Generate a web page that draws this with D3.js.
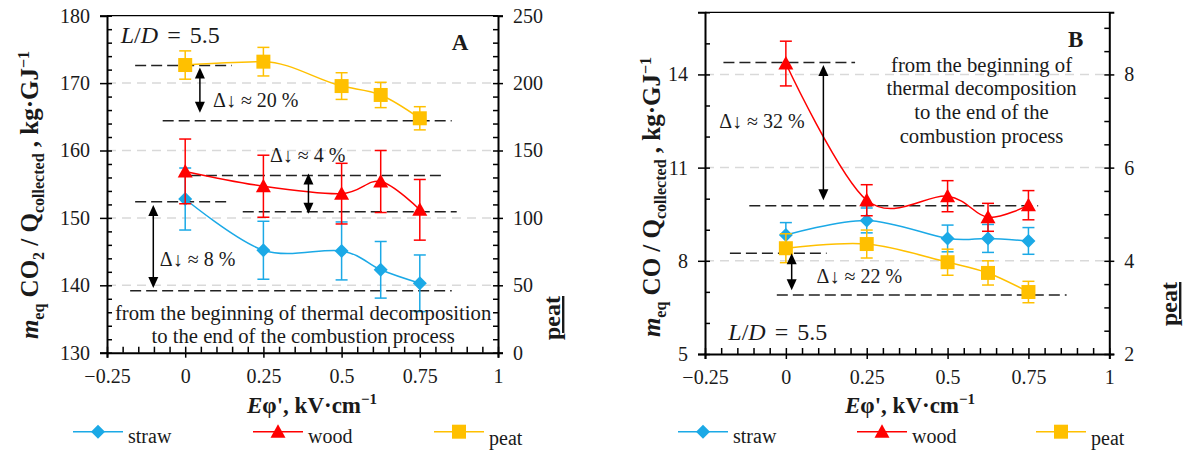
<!DOCTYPE html>
<html><head><meta charset="utf-8">
<script src="https://cdn.jsdelivr.net/npm/d3@7"></script>
<style>
body{margin:0;background:#fff;}
</style></head><body>
<svg id="chart" width="1185" height="451"></svg>
<script>
// ---------- data ----------
const xValues = [0, 0.25, 0.5, 0.625, 0.75];
const xTicks = [-0.25, 0, 0.25, 0.5, 0.75, 1];
const seriesNames = ["straw", "wood", "peat"];

// Panel A (CO2) — straw & wood on left axis, peat on right axis
const strawA = [152.8, 145.2, 145.1, 142.3, 140.3];
const strawAErr = [4.6, 4.3, 4.3, 4.2, 4.2];
const woodA = [156.9, 154.7, 153.6, 155.4, 151.2];
const woodAErr = [4.8, 4.6, 4.5, 4.6, 4.5];
const peatA = [213.4, 215.9, 197.8, 191.2, 173.9];
const peatAErr = [10.5, 10.6, 9.9, 9.4, 8.6];
const leftTicksA = [130, 140, 150, 160, 170, 180];
const rightTicksA = [0, 50, 100, 150, 200, 250];

// Panel B (CO)
const strawB = [8.83, 9.30, 8.72, 8.72, 8.64];
const strawBErr = [0.40, 0.40, 0.43, 0.45, 0.43];
const woodB = [14.35, 9.95, 10.08, 9.40, 9.79];
const woodBErr = [0.72, 0.50, 0.50, 0.45, 0.47];
const peatB = [4.27, 4.36, 3.97, 3.74, 3.33];
const peatBErr = [0.31, 0.30, 0.28, 0.26, 0.23];
const leftTicksB = [5, 8, 11, 14];
const rightTicksB = [2, 4, 6, 8];

// reference (dashed) levels: [y, x0, x1]
const refLinesA = [[172.6, -0.16, 0.149], [164.4, -0.072, 0.852], [156.3, 0.015, 0.825],
                   [150.9, 0.184, 0.868], [152.4, -0.16, 0.133], [139.2, -0.176, 0.852]];
const refLinesB = [[14.38, -0.193, 0.214], [9.77, -0.113, 0.78], [8.24, -0.173, 0.126], [6.90, -0.028, 0.868]];
// arrows: [x, yTop, yBottom]
const arrowsA = [[0.047, 172.3, 165.6], [0.394, 156.6, 150.6], [-0.102, 151.9, 139.6]];
const arrowsB = [[0.116, 14.3, 9.95], [0.018, 8.24, 7.05]];
const deltaLabelsA = ["Δ↓ ≈ 20 %", "Δ↓ ≈ 4 %", "Δ↓ ≈ 8 %"];
const deltaLabelsB = ["Δ↓ ≈ 32 %", "Δ↓ ≈ 22 %"];

// ---------- style ----------
const FONT = '"Liberation Serif", "Times New Roman", serif';
const colorOf = {straw: "#1BA9E6", wood: "#FF0000", peat: "#FFC000"};
const svg = d3.select("#chart");

function markerPath(type) {
  if (type === "straw") return "M0,-7L7,0L0,7L-7,0Z";
  if (type === "wood") return "M0,-7.5L7.5,6L-7.5,6Z";
  return "M-7,-7H7V7H-7Z";
}

function drawPanel(cfg) {
  const g = svg.append("g");
  const x = d3.scaleLinear().domain([-0.25, 1]).range([cfg.L, cfg.R]);
  const yL = d3.scaleLinear().domain(cfg.yL).range([cfg.B, cfg.T]);
  const yR = d3.scaleLinear().domain(cfg.yR).range([cfg.B, cfg.T]);

  // gridlines
  g.selectAll(".grid").data(cfg.leftTicks.filter(d => d > cfg.yL[0] && d < cfg.yL[1]))
    .enter().append("line")
    .attr("x1", cfg.L).attr("x2", cfg.R).attr("y1", d => yL(d)).attr("y2", d => yL(d))
    .attr("stroke", "#d9d9d9").attr("stroke-width", 1.5).attr("stroke-dasharray", "9,6");

  // reference dashed lines
  g.selectAll(".ref").data(cfg.refLines).enter().append("line")
    .attr("x1", d => x(d[1])).attr("x2", d => x(d[2]))
    .attr("y1", d => yL(d[0])).attr("y2", d => yL(d[0]))
    .attr("stroke", "#222").attr("stroke-width", 1.5).attr("stroke-dasharray", "11,5");

  // series
  const line = d3.line().curve(d3.curveMonotoneX);
  cfg.series.forEach(s => {
    const y = s.axis === "L" ? yL : yR;
    const col = colorOf[s.name];
    const pts = xValues.map((xv, i) => [x(xv), y(s.values[i])]);
    g.append("path").attr("d", d3.line().curve(s.curve === "mono" ? d3.curveMonotoneX : d3.curveCardinal.tension(0))(pts))
      .attr("fill", "none").attr("stroke", col).attr("stroke-width", 1.5);
    const eg = g.append("g").attr("stroke", col).attr("stroke-width", 1.5);
    xValues.forEach((xv, i) => {
      const px = x(xv), t = y(s.values[i] + s.errs[i]), b = y(s.values[i] - s.errs[i]);
      eg.append("line").attr("x1", px).attr("x2", px).attr("y1", t).attr("y2", b);
      eg.append("line").attr("x1", px - 6).attr("x2", px + 6).attr("y1", t).attr("y2", t);
      eg.append("line").attr("x1", px - 6).attr("x2", px + 6).attr("y1", b).attr("y2", b);
    });
    g.selectAll(null).data(pts).enter().append("path")
      .attr("d", markerPath(s.name)).attr("transform", d => `translate(${d[0]},${d[1]})`)
      .attr("fill", col);
  });

  // arrows
  cfg.arrows.forEach(a => {
    const px = x(a[0]), t = yL(a[1]), b = yL(a[2]);
    g.append("line").attr("x1", px).attr("x2", px).attr("y1", t + 8).attr("y2", b - 8)
      .attr("stroke", "#000").attr("stroke-width", 1.5);
    g.append("path").attr("d", `M${px},${t}L${px - 5},${t + 11}L${px + 5},${t + 11}Z`).attr("fill", "#000");
    g.append("path").attr("d", `M${px},${b}L${px - 5},${b - 11}L${px + 5},${b - 11}Z`).attr("fill", "#000");
  });

  // frame top
  g.append("line").attr("x1", cfg.L).attr("x2", cfg.R).attr("y1", cfg.T).attr("y2", cfg.T)
    .attr("stroke", "#000").attr("stroke-width", 1.3);

  // axes
  const fmt = d => (d < 0 ? "\u2212" : "") + Math.abs(d);
  const minor = (dom, step) => d3.range(dom[0], dom[1] + step / 2, step);
  g.append("g").attr("transform", `translate(0,${cfg.B})`)
    .call(d3.axisBottom(x).tickValues(minor([-0.25, 1], 0.05)).tickSize(-6).tickFormat(""))
    .call(a => a.select(".domain").remove());
  g.append("g").attr("transform", `translate(0,${cfg.B})`)
    .call(d3.axisBottom(x).tickValues(xTicks).tickSize(5).tickPadding(11).tickFormat(fmt))
    .call(a => a.select(".domain").attr("stroke-width", 2));
  g.append("g").attr("transform", `translate(${cfg.L},0)`)
    .call(d3.axisLeft(yL).tickValues(minor(cfg.yL, cfg.leftMinor)).tickSize(-5).tickFormat(""))
    .call(a => a.select(".domain").remove());
  g.append("g").attr("transform", `translate(${cfg.L},0)`)
    .call(d3.axisLeft(yL).tickValues(cfg.leftTicks).tickSize(7).tickPadding(10).tickFormat(fmt))
    .call(a => a.select(".domain").attr("stroke-width", 2));
  g.append("g").attr("transform", `translate(${cfg.R},0)`)
    .call(d3.axisRight(yR).tickValues(minor(cfg.yR, cfg.rightMinor).filter(d => d <= cfg.yR[1])).tickSize(-5).tickFormat(""))
    .call(a => a.select(".domain").remove());
  g.append("g").attr("transform", `translate(${cfg.R},0)`)
    .call(d3.axisRight(yR).tickValues(cfg.rightTicks).tickSize(5).tickPadding(10).tickFormat(fmt))
    .call(a => a.select(".domain").attr("stroke-width", 2));
  g.selectAll(".tick text").attr("font-size", 20);
  g.selectAll(".tick line").attr("stroke", "#000").attr("stroke-width", 1.5);

  // delta labels
  cfg.deltaPos.forEach((p, i) => {
    g.append("text").attr("x", x(p[0])).attr("y", yL(p[1])).attr("font-size", 20).text(cfg.deltaLabels[i]);
  });
  // L/D
  const ld = g.append("text").attr("x", x(cfg.ldPos[0])).attr("y", yL(cfg.ldPos[1]))
    .attr("font-size", 24);
  ld.append("tspan").attr("font-style", "italic").text("L");
  ld.append("tspan").text("/");
  ld.append("tspan").attr("font-style", "italic").text("D");
  ld.append("tspan").text(" = 5.5").attr("word-spacing", "3px");
  // panel letter
  g.append("text").attr("x", x(cfg.letterPos[0])).attr("y", yL(cfg.letterPos[1]))
    .attr("text-anchor", "middle").attr("font-size", 23).attr("font-weight", "bold").text(cfg.letter);
  // note
  cfg.note.forEach((t, i) => {
    g.append("text").attr("x", x(cfg.notePos[0])).attr("y", yL(cfg.notePos[1][i]))
      .attr("text-anchor", "middle").attr("font-size", 20.7).text(t);
  });

  // y title
  const yt = g.append("text").attr("transform", `translate(${cfg.yTitle[0]},${cfg.yTitle[1]}) rotate(-90)`)
    .attr("text-anchor", "middle").attr("font-size", 25).attr("font-weight", "bold");
  yt.append("tspan").attr("font-style", "italic").text("m");
  yt.append("tspan").attr("font-size", 16).attr("dy", 6).text("eq");
  yt.append("tspan").attr("dy", -6).text(" CO");
  if (cfg.gas === "CO2") {
    yt.append("tspan").attr("font-size", 16).attr("dy", 6).text("2");
    yt.append("tspan").attr("dy", -6).text(" / Q");
  } else {
    yt.append("tspan").text(" / Q");
  }
  yt.append("tspan").attr("font-size", 16).attr("dy", 6).text("collected");
  yt.append("tspan").attr("dy", -6).text(" , kg·GJ");
  yt.append("tspan").attr("font-size", 16).attr("dy", -9).text("\u22121");

  // right title
  g.append("text").attr("transform", `translate(${cfg.rTitle[0]},${cfg.rTitle[1]}) rotate(-90)`)
    .attr("text-anchor", "middle").attr("font-size", 24).attr("font-weight", "bold")
    .attr("text-decoration", "underline").text("peat");

  // x title
  const xt = g.append("text").attr("x", cfg.xTitle[0]).attr("y", cfg.xTitle[1])
    .attr("font-size", 23).attr("font-weight", "bold");
  xt.append("tspan").attr("font-style", "italic").text("E");
  xt.append("tspan").text("φ', kV·cm");
  xt.append("tspan").attr("font-size", 15).attr("dy", -9).text("\u22121");

  // legend
  cfg.legend.forEach((lx, i) => {
    const name = seriesNames[i], col = colorOf[name];
    const ly = 431.7;
    g.append("line").attr("x1", lx).attr("x2", lx + 50).attr("y1", ly).attr("y2", ly)
      .attr("stroke", col).attr("stroke-width", 1.5);
    g.append("path").attr("d", markerPath(name)).attr("transform", `translate(${lx + 25},${ly})`).attr("fill", col);
    g.append("text").attr("x", lx + 55).attr("y", name === "peat" ? 445 : 442.5)
      .attr("font-size", 20).text(name);
  });

  // serif font on every text node
  g.selectAll("text").style("font-family", FONT).style("fill", "#1a1a1a");
}

drawPanel({
  L: 107, R: 498, T: 15.7, B: 352.7,
  yL: [130, 180], yR: [0, 250], leftTicks: leftTicksA, rightTicks: rightTicksA,
  leftMinor: 2, rightMinor: 10,
  series: [
    {name: "straw", values: strawA, errs: strawAErr, axis: "L"},
    {name: "wood", values: woodA, errs: woodAErr, axis: "L"},
    {name: "peat", values: peatA, errs: peatAErr, axis: "R", curve: "mono"}],
  refLines: refLinesA, arrows: arrowsA,
  deltaLabels: deltaLabelsA, deltaPos: [[0.089, 166.4], [0.271, 158.3], [-0.081, 142.8]],
  ldPos: [-0.206, 176.0], letter: "A", letterPos: [0.879, 174.9],
  note: ["from the beginning of thermal decomposition", "to the end of the combustion process"],
  notePos: [0.377, [134.85, 131.5]],
  gas: "CO2", yTitle: [38, 195], rTitle: [560, 318], xTitle: [247, 413],
  legend: [73, 253, 434]
});

drawPanel({
  L: 705, R: 1109.3, T: 12.3, B: 354,
  yL: [5, 16], yR: [2, 2 + 11 * 2 / 3], leftTicks: leftTicksB, rightTicks: rightTicksB,
  leftMinor: 1, rightMinor: 0.5,
  series: [
    {name: "straw", values: strawB, errs: strawBErr, axis: "L"},
    {name: "wood", values: woodB, errs: woodBErr, axis: "L"},
    {name: "peat", values: peatB, errs: peatBErr, axis: "R"}],
  refLines: refLinesB, arrows: arrowsB,
  deltaLabels: deltaLabelsB, deltaPos: [[-0.206, 12.26], [0.095, 7.27]],
  ldPos: [-0.178, 5.45], letter: "B", letterPos: [0.896, 14.88],
  note: ["from the beginning of", "thermal decomposition", "to the end of the", "combustion process"],
  notePos: [0.605, [14.08, 13.33, 12.55, 11.80]],
  gas: "CO", yTitle: [660, 197], rTitle: [1177, 304], xTitle: [845, 413],
  legend: [678, 857, 1036]
});
</script>
</body></html>
